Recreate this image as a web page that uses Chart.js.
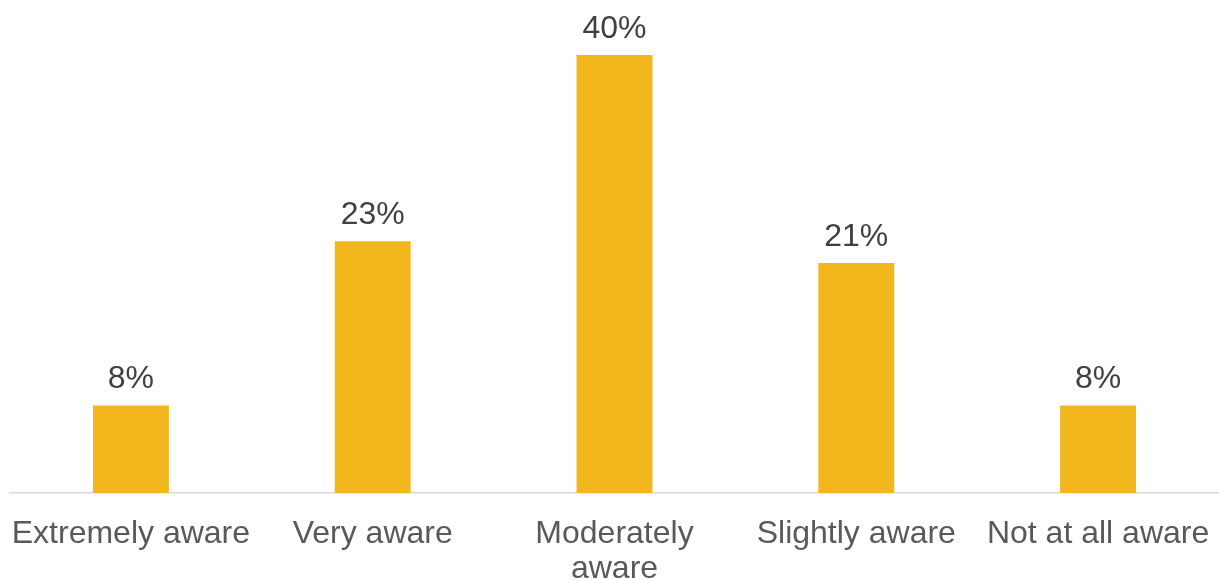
<!DOCTYPE html>
<html lang="en">
<head>
	<meta charset="UTF-8">
	<title>Awareness</title>
	<script src="https://cdn.jsdelivr.net/npm/chart.js@4.4.1/dist/chart.umd.min.js"></script>
	<style>
		html, body { margin: 0; padding: 0; background: #fff; }
		#wrap { width: 1219px; height: 580px; position: relative; }
	</style>
</head>
<body>
	<div id="wrap">
		<canvas id="grafico"></canvas>
	</div>
	<script>
		const categorias = ['Extremely aware', 'Very aware', ['Moderately', 'aware'], 'Slightly aware', 'Not at all aware'];
		const valores = [8, 23, 40, 21, 8];

		const fonte = '"Liberation Sans", Arial, sans-serif';

		// percent labels above each bar
		const rotulos = {
			id: 'rotulos',
			afterDatasetsDraw(chart) {
				const ctx = chart.ctx;
				const meta = chart.getDatasetMeta(0);
				ctx.save();
				ctx.font = '32px ' + fonte;
				ctx.fillStyle = '#404040';
				ctx.textAlign = 'center';
				ctx.textBaseline = 'alphabetic';
				meta.data.forEach((bar, i) => {
					ctx.fillText(valores[i] + '%', bar.x, bar.y - 17);
				});
				ctx.restore();
			}
		};

		new Chart(document.querySelector('#grafico'), {
			type: 'bar',
			data: {
				labels: categorias,
				datasets: [{
					data: valores,
					backgroundColor: '#F2B71C',
					borderWidth: 0,
					barPercentage: 0.314,
					categoryPercentage: 1
				}]
			},
			options: {
				responsive: true,
				maintainAspectRatio: false,
				animation: false,
				layout: { padding: { top: 55, left: 10, right: 0, bottom: 0 } },
				plugins: {
					legend: { display: false },
					tooltip: { enabled: false }
				},
				scales: {
					x: {
						grid: { display: false, drawTicks: false },
						border: { display: true, color: '#D9D9D9', width: 1.5 },
						ticks: {
							color: '#595959',
							font: { family: fonte, size: 32, lineHeight: 1.094 },
							padding: 24,
							maxRotation: 0,
							autoSkip: false
						},
						// fixed axis band, labels may overhang the edges
						afterFit(scale) {
							scale.height = 87;
							scale.paddingLeft = 0;
							scale.paddingRight = 0;
						}
					},
					y: {
						display: false,
						min: 0,
						max: 40
					}
				}
			},
			plugins: [rotulos]
		});
	</script>
</body>
</html>
